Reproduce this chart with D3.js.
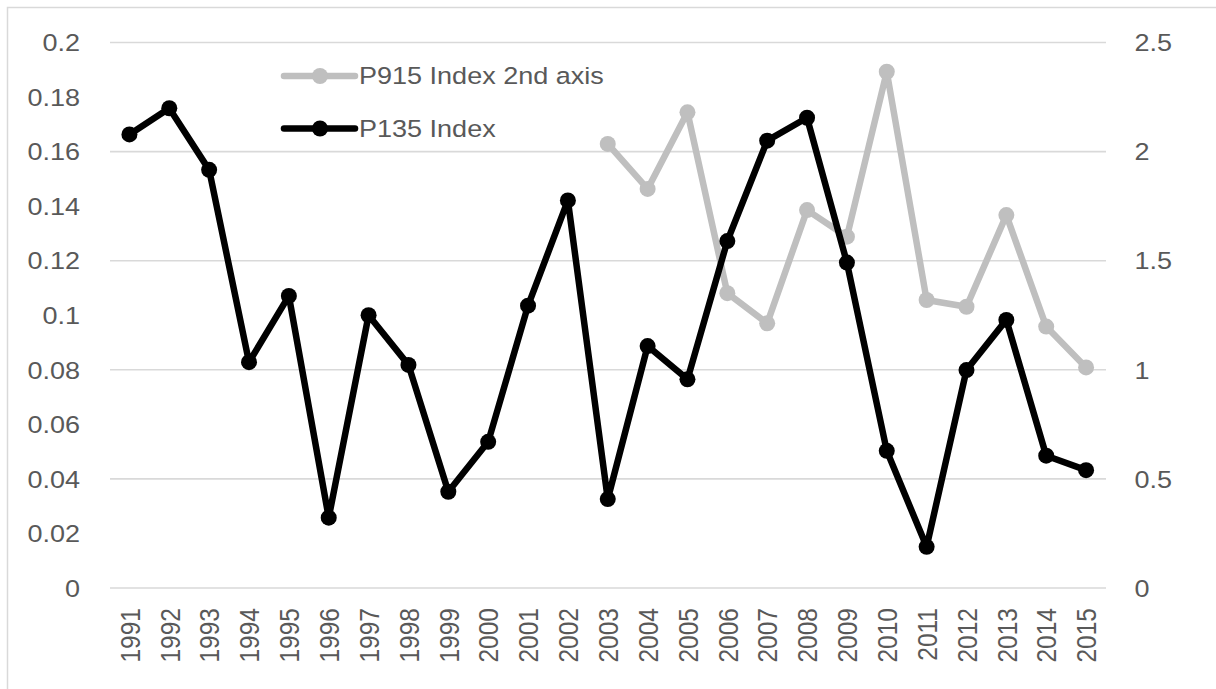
<!DOCTYPE html>
<html>
<head>
<meta charset="utf-8">
<script src="https://cdn.jsdelivr.net/npm/d3@7/dist/d3.min.js"></script>
<style>
  html, body { margin: 0; padding: 0; background: #ffffff; }
  svg { display: block; }
  text { font-family: "Liberation Sans", Arial, sans-serif; fill: #595959; }
</style>
</head>
<body>
<svg id="chart" width="1216" height="689"></svg>
<script>
// Years on the category axis
const years = ["1991","1992","1993","1994","1995","1996","1997","1998","1999","2000",
  "2001","2002","2003","2004","2005","2006","2007","2008","2009","2010",
  "2011","2012","2013","2014","2015"];

// P135 Index (left axis)
const p135 = [0.1663, 0.1759, 0.1533, 0.0828, 0.1071, 0.0258, 0.1000, 0.0818, 0.0353, 0.0536,
  0.1035, 0.1421, 0.0326, 0.0887, 0.0765, 0.1272, 0.1640, 0.1724, 0.1193, 0.0503,
  0.0151, 0.0799, 0.0983, 0.0485, 0.0432];

// P915 Index (second axis), series starts in 2003
const p915Years = ["2003","2004","2005","2006","2007","2008","2009","2010","2011","2012","2013","2014","2015"];
const p915 = [2.035, 1.829, 2.180, 1.351, 1.213, 1.732, 1.610, 2.366, 1.320, 1.289, 1.709, 1.198, 1.011];

// Axis ticks
const leftTicks = [0, 0.02, 0.04, 0.06, 0.08, 0.1, 0.12, 0.14, 0.16, 0.18, 0.2];
const leftTickLabels = ["0", "0.02", "0.04", "0.06", "0.08", "0.1", "0.12", "0.14", "0.16", "0.18", "0.2"];
const rightTicks = [0, 0.5, 1, 1.5, 2, 2.5];
const rightTickLabels = ["0", "0.5", "1", "1.5", "2", "2.5"];

const seriesNames = ["P915 Index 2nd axis", "P135 Index"];
const seriesColors = ["#bfbfbf", "#000000"];

const svg = d3.select("#chart");
const plot = { left: 110, right: 1106, top: 42.5, bottom: 588 };
const sx = 1.15; // horizontal glyph stretch

// Outer chart frame
svg.append("rect")
  .attr("x", 7.5).attr("y", 7.5)
  .attr("width", 1260).attr("height", 760)
  .attr("fill", "none").attr("stroke", "#d9d9d9").attr("stroke-width", 1.5);

const x = d3.scalePoint().domain(years).range([plot.left - 0.5, plot.right]).padding(0.5);
const yL = d3.scaleLinear().domain([0, 0.2]).range([plot.bottom, plot.top]);
const yR = d3.scaleLinear().domain([0, 2.5]).range([plot.bottom, plot.top]);

// Horizontal gridlines follow the secondary axis ticks
svg.append("g").selectAll("line").data(rightTicks).join("line")
  .attr("x1", plot.left).attr("x2", plot.right)
  .attr("y1", d => yR(d)).attr("y2", d => yR(d))
  .attr("stroke", "#d9d9d9").attr("stroke-width", 1.6);

// Left axis
const gL = svg.append("g").attr("transform", "translate(80,0)")
  .call(d3.axisLeft(yL).tickValues(leftTicks).tickSize(0).tickPadding(0)
    .tickFormat((d, i) => leftTickLabels[i]));
gL.select(".domain").remove();
gL.selectAll("text")
  .attr("x", 0).attr("dy", "0.35em")
  .attr("transform", `scale(${sx},1)`)
  .style("font-size", "23.5px").style("font-family", "Liberation Sans, Arial, sans-serif")
  .attr("fill", "#595959");

// Right axis
const gR = svg.append("g").attr("transform", "translate(1134.5,0)")
  .call(d3.axisRight(yR).tickValues(rightTicks).tickSize(0).tickPadding(0)
    .tickFormat((d, i) => rightTickLabels[i]));
gR.select(".domain").remove();
gR.selectAll("text")
  .attr("x", 0).attr("dy", "0.35em")
  .attr("transform", `scale(${sx},1)`)
  .style("font-size", "23.5px").style("font-family", "Liberation Sans, Arial, sans-serif")
  .attr("fill", "#595959");

// Category axis with rotated year labels
const gX = svg.append("g").attr("transform", `translate(0,${plot.bottom})`)
  .call(d3.axisBottom(x).tickSize(0).tickPadding(0));
gX.select(".domain").remove();
gX.selectAll("text")
  .attr("x", 0).attr("y", 0).attr("dy", "0.36em")
  .attr("text-anchor", "end")
  .attr("transform", "translate(0,20) rotate(-90) scale(1,1.1)")
  .style("font-size", "24.5px").style("font-family", "Liberation Sans, Arial, sans-serif")
  .attr("fill", "#595959");

// Secondary series (gray)
const gray = p915Years.map((yr, i) => ({ yr, v: p915[i] }));
svg.append("path").datum(gray)
  .attr("fill", "none").attr("stroke", seriesColors[0]).attr("stroke-width", 6.5)
  .attr("stroke-linejoin", "round").attr("stroke-linecap", "round")
  .attr("d", d3.line().x(d => x(d.yr)).y(d => yR(d.v)));
svg.append("g").selectAll("circle").data(gray).join("circle")
  .attr("cx", d => x(d.yr)).attr("cy", d => yR(d.v)).attr("r", 8)
  .attr("fill", seriesColors[0]);

// Primary series (black)
const black = years.map((yr, i) => ({ yr, v: p135[i] }));
svg.append("path").datum(black)
  .attr("fill", "none").attr("stroke", seriesColors[1]).attr("stroke-width", 6.5)
  .attr("stroke-linejoin", "round").attr("stroke-linecap", "round")
  .attr("d", d3.line().x(d => x(d.yr)).y(d => yL(d.v)));
svg.append("g").selectAll("circle").data(black).join("circle")
  .attr("cx", d => x(d.yr)).attr("cy", d => yL(d.v)).attr("r", 8)
  .attr("fill", seriesColors[1]);

// Legend
const legendY = [76, 128.5];
const lg = svg.append("g");
seriesNames.forEach((name, i) => {
  const row = lg.append("g").attr("transform", `translate(0,${legendY[i]})`);
  row.append("line").attr("x1", 284).attr("x2", 355).attr("y1", 0).attr("y2", 0)
    .attr("stroke", seriesColors[i]).attr("stroke-width", 6.5).attr("stroke-linecap", "round");
  row.append("circle").attr("cx", 320).attr("cy", 0).attr("r", 8).attr("fill", seriesColors[i]);
  row.append("text").attr("transform", `translate(359,0) scale(${sx},1)`)
    .attr("dy", "0.35em").style("font-size", "23.5px").text(name);
});
</script>
</body>
</html>
